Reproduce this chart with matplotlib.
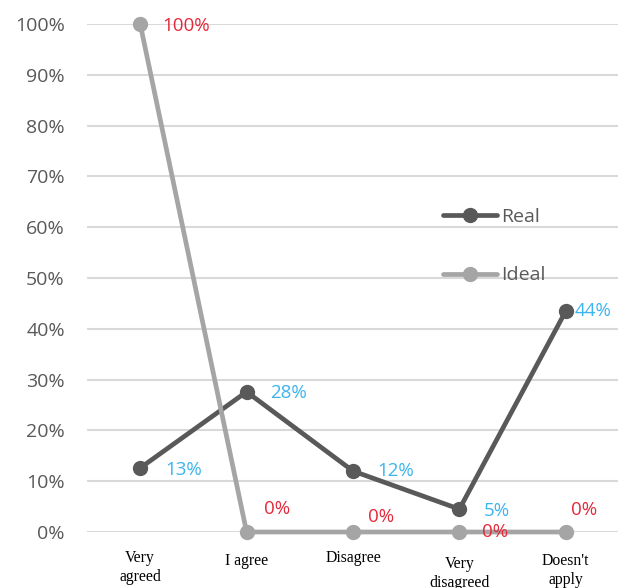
import matplotlib.pyplot as plt
from matplotlib.ticker import PercentFormatter

# Data
categories = ["Very\nagreed", "I agree", "Disagree", "Very\ndisagreed", "Doesn't\napply"]
real = [0.126, 0.276, 0.12, 0.045, 0.435]
ideal = [1.00, 0.0, 0.0, 0.0, 0.0]
real_labels = ["13%", "28%", "12%", "5%", "44%"]
ideal_labels = ["100%", "0%", "0%", "0%", "0%"]

# label offsets in pixels (dx, dy) from the marker
real_offsets = [(25, -2), (24, -1), (24, 0), (24, -2), (9, 0)]
ideal_offsets = [(22, -2), (17, 23), (15, 15), (23, 0), (5, 22)]
# small vertical shifts (pixels) of the category labels
cat_shift = [0, 3, 0, 6, 3]

dark = "#595959"
light = "#A5A5A5"
blue = "#3CB4EE"
red = "#E4283A"
num_font = "Open Sans"

fig = plt.figure(figsize=(6.18, 5.88), dpi=100)
ax_h = 508
ax = fig.add_axes([87 / 618, 1 - 532 / 588, 532 / 618, ax_h / 588])

x = list(range(len(categories)))
ax.plot(x, real, color=dark, lw=3.4, marker="o", ms=10, label="Real",
        clip_on=False, zorder=3, solid_capstyle="round")
ax.plot(x, ideal, color=light, lw=3.4, marker="o", ms=10, label="Ideal",
        clip_on=False, zorder=3, solid_capstyle="round")

px = 72 / 100
for xi, v, t, off in zip(x, real, real_labels, real_offsets):
    ax.annotate(t, (xi, v), xytext=(off[0] * px, off[1] * px),
                textcoords="offset points", ha="left", va="center",
                color=blue, fontsize=13.5, family=num_font,
                annotation_clip=False, zorder=5)
for xi, v, t, off in zip(x, ideal, ideal_labels, ideal_offsets):
    ax.annotate(t, (xi, v), xytext=(off[0] * px, off[1] * px),
                textcoords="offset points", ha="left", va="center",
                color=red, fontsize=13.5, family=num_font,
                annotation_clip=False, zorder=5)

ax.set_xlim(-0.5, len(categories) - 0.5)
ax.set_ylim(0, 1)
ax.set_yticks([i / 10 for i in range(11)])
ax.yaxis.set_major_formatter(PercentFormatter(1.0, decimals=0))
ax.set_xticks(x)
ax.set_xticklabels(categories, family="Liberation Serif", fontsize=11.3,
                   color="black", linespacing=1.25)
for lab, dy in zip(ax.get_xticklabels(), cat_shift):
    lab.set_y(-dy / ax_h)
for lab in ax.get_yticklabels():
    lab.set_family(num_font)
    lab.set_fontsize(14)
    lab.set_color(dark)

ax.tick_params(axis="both", length=0)
ax.tick_params(axis="y", pad=16)
ax.tick_params(axis="x", pad=13)
ax.grid(axis="y", color="#D9D9D9", lw=1.5)
ax.set_axisbelow(True)
for s in ax.spines.values():
    s.set_visible(False)

leg = fig.legend(loc="center left", bbox_to_anchor=(443 / 618, 1 - 246 / 588),
                 frameon=False, handlelength=2.8, handletextpad=0.2,
                 labelspacing=2.1, borderpad=0, borderaxespad=0,
                 prop={"family": num_font, "size": 14})
for t in leg.get_texts():
    t.set_color(dark)

fig.savefig("out.png", dpi=100)
